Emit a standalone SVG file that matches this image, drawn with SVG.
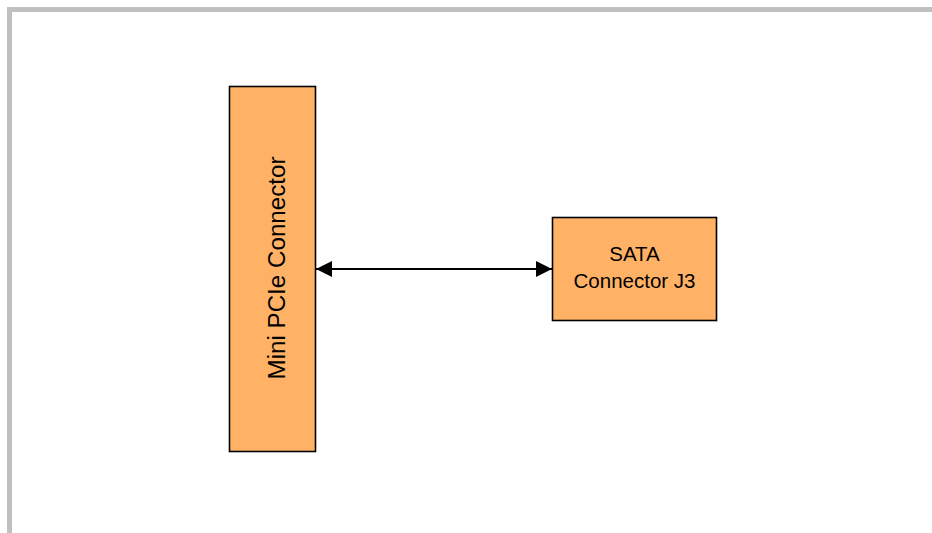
<svg xmlns="http://www.w3.org/2000/svg" width="932" height="533" viewBox="0 0 932 533">
  <defs>
    <style>
      .box { fill: #FFB266; stroke: #000000; stroke-width: 1.6; }
      .lbl { font-family: "Liberation Sans", Arial, sans-serif; fill: #000000; }
      .conn { stroke: #000000; stroke-width: 2.2; fill: none; }
    </style>
    <marker id="arrow" viewBox="0 0 16 16" refX="16" refY="8" markerWidth="16" markerHeight="16" markerUnits="userSpaceOnUse" orient="auto-start-reverse">
      <path d="M0,0 L16,8 L0,16 Z" fill="#000000"/>
    </marker>
  </defs>
  <rect width="932" height="533" fill="#ffffff"/>
  <path d="M9.5,533 V9.5 H932" fill="none" stroke="#C0C0C0" stroke-width="5"/>
  <g id="connectors">
    <line class="conn" x1="316" y1="269" x2="552" y2="269" marker-start="url(#arrow)" marker-end="url(#arrow)"/>
  </g>
  <g id="mini-pcie">
    <rect class="box" x="229.5" y="86.5" width="86" height="365"/>
    <text class="lbl" font-size="23.5" text-anchor="middle" textLength="223" lengthAdjust="spacingAndGlyphs" transform="translate(285,268) rotate(-90)" x="0" y="0">Mini PCIe Connector</text>
  </g>
  <g id="sata">
    <rect class="box" x="552.5" y="217.5" width="164" height="103"/>
    <text class="lbl" font-size="20.5" text-anchor="middle" x="634.5" y="261">SATA</text>
    <text class="lbl" font-size="20.5" text-anchor="middle" x="634.5" y="288">Connector J3</text>
  </g>
</svg>
